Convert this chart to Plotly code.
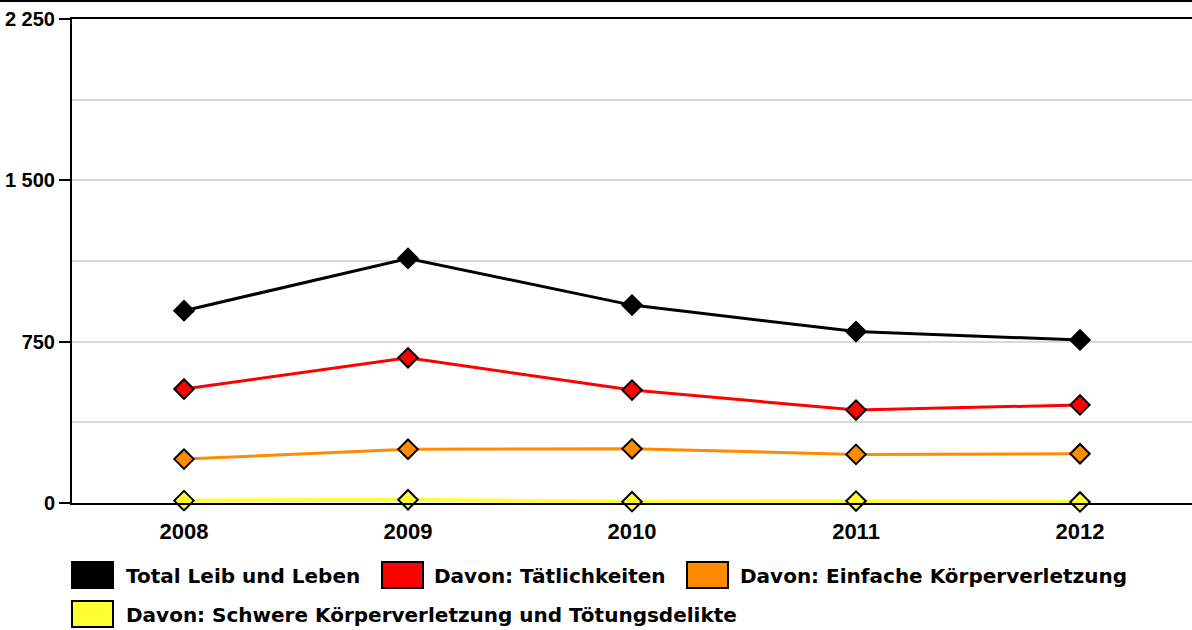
import plotly.graph_objects as go

# Jahre und Fallzahlen
years = ["2008", "2009", "2010", "2011", "2012"]
total_leib_leben = [894, 1137, 920, 797, 758]
taetlichkeiten = [530, 675, 525, 432, 456]
einfache_kv = [204, 250, 252, 226, 229]
schwere_kv_toetung = [11, 15, 6, 9, 5]

series_names = [
    "Total Leib und Leben",
    "Davon: Tätlichkeiten",
    "Davon: Einfache Körperverletzung",
    "Davon: Schwere Körperverletzung und Tötungsdelikte",
]
series_values = [total_leib_leben, taetlichkeiten, einfache_kv, schwere_kv_toetung]
series_colors = ["#000000", "#ff0000", "#ff8c00", "#ffff33"]
line_widths = [3, 3, 3, 4]

y_ticks = [0, 750, 1500, 2250]
y_tick_text = ["0", "750", "1 500", "2 250"]

W, H = 1192, 630
ML, MR, MT, MB = 72, 0, 19, 127
PW, PH = W - ML - MR, H - MT - MB


def px_x(px):
    return (px - ML) / PW


def px_y(py):
    return (H - MB - py) / PH


fig = go.Figure()
for name, vals, col, lw in zip(series_names, series_values, series_colors, line_widths):
    fig.add_trace(go.Scatter(
        x=years, y=vals, name=name, mode="lines+markers",
        line=dict(color=col, width=lw),
        marker=dict(symbol="diamond", size=15, color=col,
                    line=dict(color="#000000", width=2)),
        cliponaxis=False, showlegend=False,
    ))

tick_family = "Liberation Sans, Arial, sans-serif"
legend_family = "DejaVu Sans, Verdana, sans-serif"

fig.update_layout(
    width=W, height=H,
    margin=dict(l=ML, r=MR, t=MT, b=MB),
    paper_bgcolor="white", plot_bgcolor="white",
    font=dict(family=tick_family, size=18, color="#000000"),
    separators=". ",
    xaxis=dict(
        type="category", range=[-0.5, 4.5],
        showline=True, linecolor="#000000", linewidth=2, mirror=True,
        showgrid=False, ticks="", zeroline=False,
        ticklabelstandoff=8,
        tickfont=dict(family=tick_family, size=22, weight="bold"),
    ),
    yaxis=dict(
        range=[0, 2250], tickvals=y_ticks, ticktext=y_tick_text,
        showline=True, linecolor="#000000", linewidth=2,
        ticks="outside", ticklen=11, tickwidth=2, tickcolor="#000000",
        showgrid=True, gridcolor="#d9d9d9", gridwidth=2,
        minor=dict(dtick=375, tick0=0, showgrid=True,
                   gridcolor="#d9d9d9", gridwidth=2, ticks=""),
        zeroline=False,
        tickfont=dict(family=tick_family, size=20, weight="bold"),
    ),
)

# Linie am oberen Rand über die ganze Breite
fig.add_shape(type="line", xref="paper", yref="paper",
              x0=px_x(0), x1=1, y0=px_y(1), y1=px_y(1),
              line=dict(color="#000000", width=2))

# Legende: Farbfelder und Beschriftungen
legend_items = [
    (72, 575, 124),
    (382, 575, 432),
    (687, 575, 738),
    (72, 614, 124),
]
for (sx, cy, tx), name, col in zip(legend_items, series_names, series_colors):
    fig.add_shape(type="rect", xref="paper", yref="paper",
                  x0=px_x(sx), x1=px_x(sx + 41),
                  y0=px_y(cy - 13), y1=px_y(cy + 13),
                  fillcolor=col, line=dict(color="#000000", width=2))
    fig.add_annotation(xref="paper", yref="paper", x=px_x(tx), y=px_y(cy + 1),
                       xanchor="left", yanchor="middle", showarrow=False,
                       text=f"<b>{name}</b>",
                       font=dict(family=legend_family, size=20, color="#000000"))

fig.write_html("out.html")
